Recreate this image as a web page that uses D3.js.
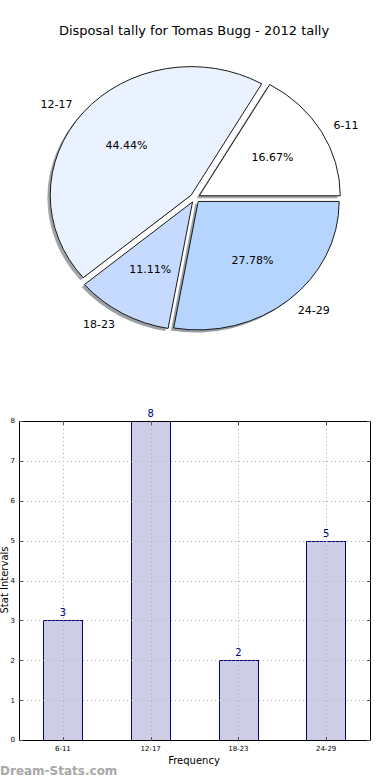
<!DOCTYPE html>
<html>
<head>
<meta charset="utf-8">
<script src="https://cdn.jsdelivr.net/npm/d3@7"></script>
<style>
  body { margin: 0; background: #fff; }
  svg { display: block; font-family: "DejaVu Sans", sans-serif; }
</style>
</head>
<body>
<div id="container"></div>
<script>
var width = 390;
var height = 780;

// data
var categories = ["6-11", "12-17", "18-23", "24-29"];
var counts = [3, 8, 2, 5];
var pieColors = ["#ffffff", "#ebf2ff", "#c6d9ff", "#b5d5ff"];
var yTicks = [0, 1, 2, 3, 4, 5, 6, 7, 8];
var title = "Disposal tally for Tomas Bugg - 2012 tally";

var svg = d3.select("#container")
    .append("svg")
    .attr("width", width)
    .attr("height", height);

// ---------- pie ----------
var cx = 195, cy = 198;
var rx = 141, ry = 128.5;
var explode = 0.035;

svg.append("text")
    .attr("x", 194)
    .attr("y", 35)
    .attr("text-anchor", "middle")
    .attr("font-size", "13px")
    .attr("fill", "#000")
    .text(title);

var total = d3.sum(counts);

// matplotlib style: start at 3 o'clock, go counterclockwise
var pie = d3.pie().sort(null)
    .startAngle(Math.PI / 2)
    .endAngle(Math.PI / 2 - 2 * Math.PI);

var arcs = pie(counts);
var arc = d3.arc().innerRadius(0).outerRadius(rx);

function offset(d, k) {
    var a = (d.startAngle + d.endAngle) / 2;
    return [Math.sin(a) * rx * k, -Math.cos(a) * ry * k];
}

var pieG = svg.append("g");

// shadows first
pieG.selectAll("path.shadow")
    .data(arcs)
    .enter()
    .append("path")
    .attr("class", "shadow")
    .attr("d", arc)
    .attr("transform", function (d) {
        var o = offset(d, explode);
        return "translate(" + (cx + o[0] - 0.02 * rx) + "," + (cy + o[1] + 0.02 * ry) + ") scale(1," + (ry / rx) + ")";
    })
    .attr("fill", function (d, i) {
        var c = d3.rgb(pieColors[i]);
        return d3.rgb(c.r * 0.3, c.g * 0.3, c.b * 0.3);
    })
    .attr("fill-opacity", 0.5);

pieG.selectAll("path.wedge")
    .data(arcs)
    .enter()
    .append("path")
    .attr("class", "wedge")
    .attr("d", arc)
    .attr("transform", function (d) {
        var o = offset(d, explode);
        return "translate(" + (cx + o[0]) + "," + (cy + o[1]) + ") scale(1," + (ry / rx) + ")";
    })
    .attr("fill", function (d, i) { return pieColors[i]; })
    .attr("stroke", "#1a1a1a")
    .attr("stroke-width", 1)
    .attr("vector-effect", "non-scaling-stroke");

// category labels
pieG.selectAll("text.lab")
    .data(arcs)
    .enter()
    .append("text")
    .attr("class", "lab")
    .attr("x", function (d) { var o = offset(d, explode + 1.1); return cx + o[0]; })
    .attr("y", function (d) { var o = offset(d, explode + 1.1); return cy + o[1]; })
    .attr("dy", "0.35em")
    .attr("text-anchor", function (d) {
        var a = (d.startAngle + d.endAngle) / 2;
        return Math.sin(a) > 0 ? "start" : "end";
    })
    .attr("font-size", "11px")
    .attr("fill", "#000")
    .text(function (d, i) { return categories[i]; });

// percentage labels
pieG.selectAll("text.pct")
    .data(arcs)
    .enter()
    .append("text")
    .attr("class", "pct")
    .attr("x", function (d) { var o = offset(d, explode + 0.6); return cx + o[0]; })
    .attr("y", function (d) { var o = offset(d, explode + 0.6); return cy + o[1]; })
    .attr("dy", "0.35em")
    .attr("text-anchor", "middle")
    .attr("font-size", "11px")
    .attr("fill", "#000")
    .text(function (d) { return (d.value / total * 100).toFixed(2) + "%"; });

// ---------- bar chart ----------
var plotLeft = 19, plotRight = 370, plotTop = 421, plotBottom = 740;

var xScale = d3.scalePoint()
    .domain(categories)
    .range([plotLeft, plotRight])
    .padding(0.5);

var yScale = d3.scaleLinear()
    .domain([0, 8])
    .range([plotBottom, plotTop]);

var barW = xScale.step() * 0.45;

var hGrid = svg.append("g")
    .attr("stroke", "#b8b8b8")
    .attr("stroke-width", 1)
    .attr("stroke-dasharray", "1,3");

hGrid.selectAll("line")
    .data(yTicks.slice(1, -1))
    .enter()
    .append("line")
    .attr("x1", plotLeft).attr("x2", plotRight)
    .attr("y1", function (d) { return Math.round(yScale(d)) + 0.5; })
    .attr("y2", function (d) { return Math.round(yScale(d)) + 0.5; });

svg.selectAll("rect.bar")
    .data(counts)
    .enter()
    .append("rect")
    .attr("class", "bar")
    .attr("x", function (d, i) { return Math.round(xScale(categories[i]) - barW / 2) + 0.5; })
    .attr("y", function (d) { return Math.round(yScale(d)) + 0.5; })
    .attr("width", Math.round(barW))
    .attr("height", function (d) { return Math.round(plotBottom - yScale(d)); })
    .attr("fill", "#cdcde6")
    .attr("stroke", "#000080")
    .attr("stroke-width", 1);

// grid lines sit above the bars in the reference
var gridTop = svg.append("g")
    .attr("stroke", "#a8a8b8")
    .attr("stroke-width", 1)
    .attr("stroke-dasharray", "1,3");

gridTop.selectAll("line.h")
    .data(yTicks.slice(1, -1))
    .enter()
    .append("line")
    .attr("class", "h")
    .attr("x1", function (d) { return plotLeft; })
    .attr("x2", plotRight)
    .attr("y1", function (d) { return Math.round(yScale(d)) + 0.5; })
    .attr("y2", function (d) { return Math.round(yScale(d)) + 0.5; })
    .attr("stroke-opacity", 0.6);

gridTop.selectAll("line.v")
    .data(categories)
    .enter()
    .append("line")
    .attr("class", "v")
    .attr("y1", plotTop).attr("y2", plotBottom)
    .attr("x1", function (d) { return Math.round(xScale(d)) + 0.5; })
    .attr("x2", function (d) { return Math.round(xScale(d)) + 0.5; });

svg.selectAll("text.val")
    .data(counts)
    .enter()
    .append("text")
    .attr("class", "val")
    .attr("x", function (d, i) { return xScale(categories[i]); })
    .attr("y", function (d) { return yScale(d) - 4; })
    .attr("text-anchor", "middle")
    .attr("font-size", "10px")
    .attr("fill", "#000080")
    .text(function (d) { return d; });

// frame
svg.append("rect")
    .attr("x", plotLeft + 0.5)
    .attr("y", plotTop + 0.5)
    .attr("width", plotRight - plotLeft)
    .attr("height", plotBottom - plotTop)
    .attr("fill", "none")
    .attr("stroke", "#000")
    .attr("stroke-width", 1);

// inward ticks
var ticks = svg.append("g").attr("stroke", "#555").attr("stroke-width", 1);
yTicks.forEach(function (t) {
    var y = Math.round(yScale(t)) + 0.5;
    ticks.append("line").attr("x1", plotLeft).attr("x2", plotLeft + 4).attr("y1", y).attr("y2", y);
    ticks.append("line").attr("x1", plotRight - 3).attr("x2", plotRight + 1).attr("y1", y).attr("y2", y);
});
categories.forEach(function (c) {
    var x = Math.round(xScale(c)) + 0.5;
    ticks.append("line").attr("x1", x).attr("x2", x).attr("y1", plotBottom + 1).attr("y2", plotBottom - 3);
    ticks.append("line").attr("x1", x).attr("x2", x).attr("y1", plotTop).attr("y2", plotTop + 4);
});

// tick labels
svg.selectAll("text.yt")
    .data(yTicks)
    .enter()
    .append("text")
    .attr("class", "yt")
    .attr("x", plotLeft - 4)
    .attr("y", function (d) { return yScale(d); })
    .attr("dy", "0.35em")
    .attr("text-anchor", "end")
    .attr("font-size", "7px")
    .attr("fill", "#000")
    .text(function (d) { return d; });

svg.selectAll("text.xt")
    .data(categories)
    .enter()
    .append("text")
    .attr("class", "xt")
    .attr("x", function (d) { return xScale(d); })
    .attr("y", plotBottom + 11)
    .attr("text-anchor", "middle")
    .attr("font-size", "7px")
    .attr("fill", "#000")
    .text(function (d) { return d; });

// axis titles
svg.append("text")
    .attr("x", 194)
    .attr("y", 764)
    .attr("text-anchor", "middle")
    .attr("font-size", "10px")
    .attr("fill", "#000")
    .text("Frequency");

svg.append("text")
    .attr("transform", "rotate(-90)")
    .attr("x", -580)
    .attr("y", 8)
    .attr("text-anchor", "middle")
    .attr("font-size", "10px")
    .attr("fill", "#000")
    .text("Stat Intervals");

// watermark
svg.append("text")
    .attr("x", 0)
    .attr("y", 775)
    .attr("font-size", "12px")
    .attr("font-weight", "bold")
    .attr("fill", "#a8a8a8")
    .text("Dream-Stats.com");
</script>
</body>
</html>
